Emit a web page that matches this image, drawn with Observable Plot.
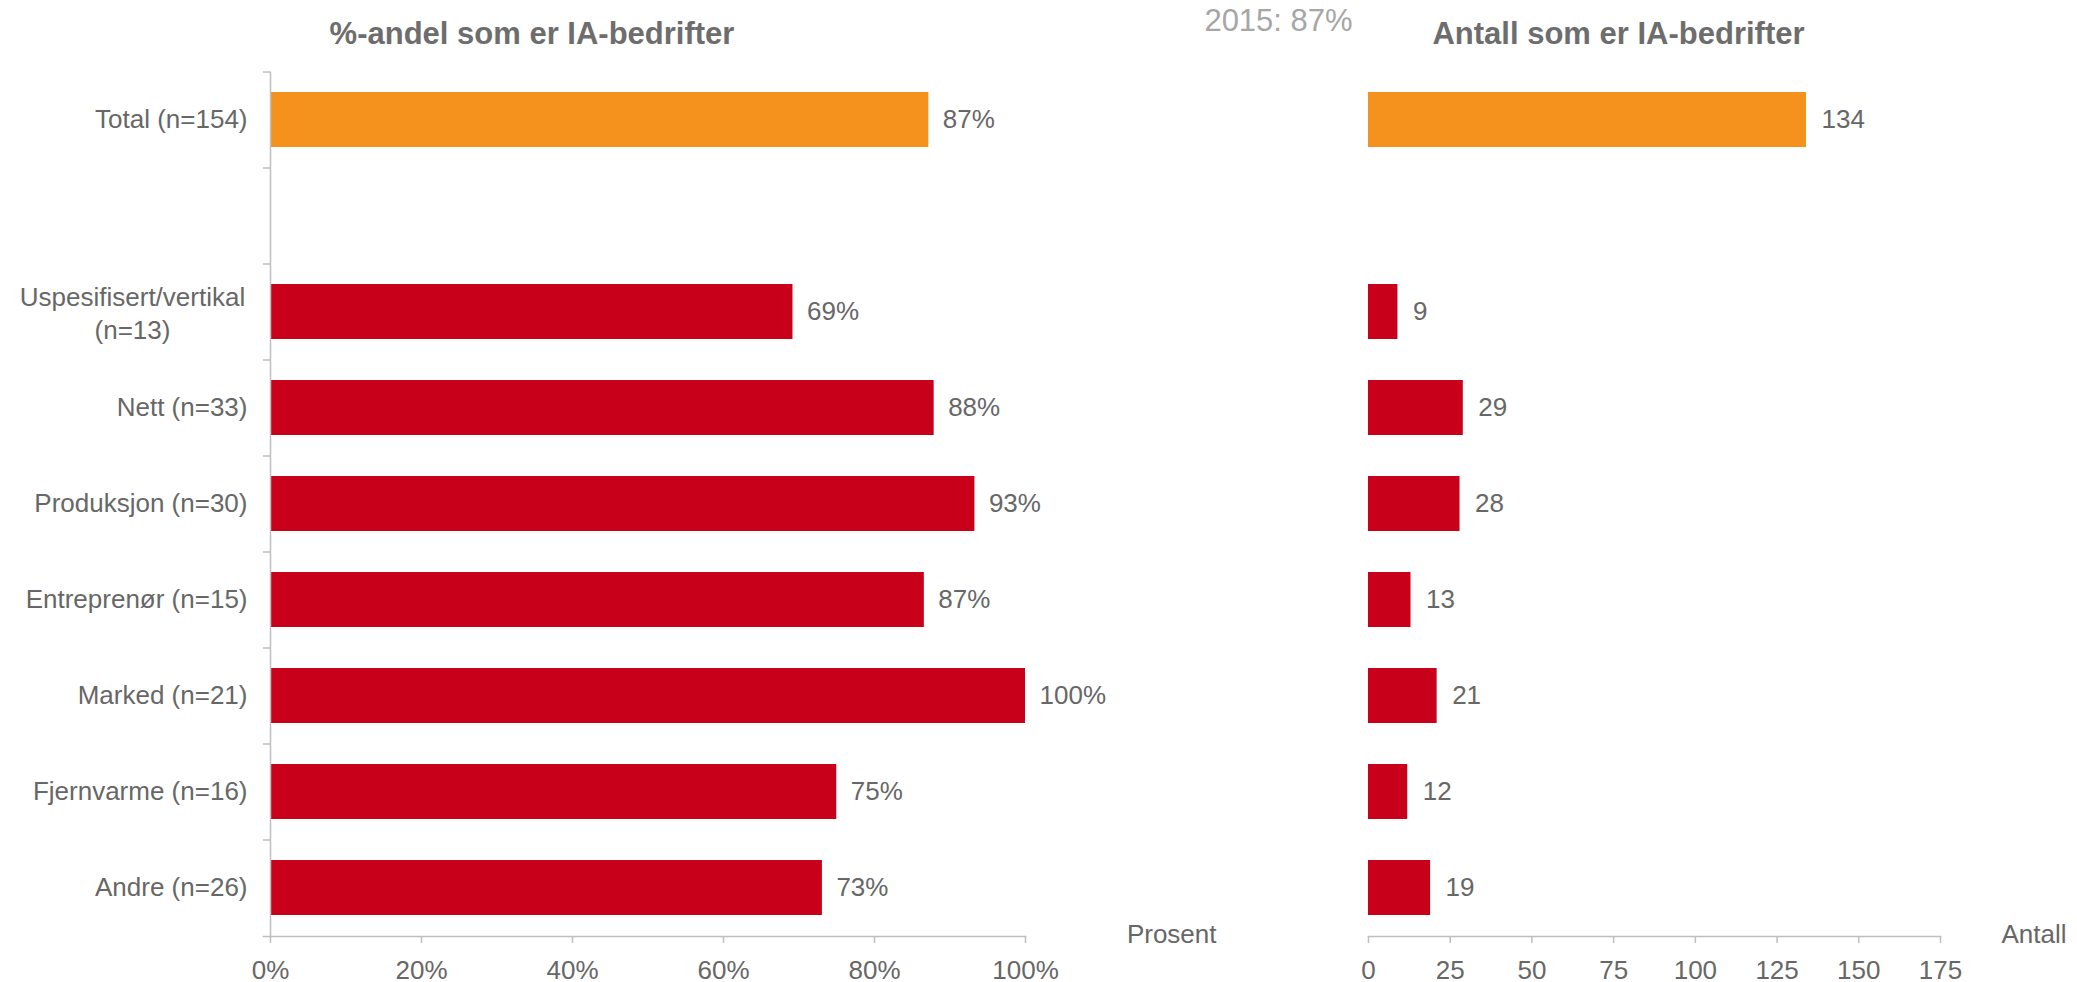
<!DOCTYPE html>
<html><head><meta charset="utf-8">
<script src="https://cdn.jsdelivr.net/npm/d3@7"></script>
<script src="https://cdn.jsdelivr.net/npm/@observablehq/plot@0.6"></script>
<style>
body{margin:0;background:#fff;}
#wrap{position:relative;width:2077px;height:982px;}
#wrap svg{position:absolute;top:0;}
</style></head><body><div id="wrap"></div>
<script>
// ---- data ----
const categories = ["Total (n=154)", " ", "Uspesifisert/vertikal\n(n=13)", "Nett (n=33)", "Produksjon (n=30)", "Entreprenør (n=15)", "Marked (n=21)", "Fjernvarme (n=16)", "Andre (n=26)"];
const shares = [0.872, null, 0.692, 0.879, 0.933, 0.866, 1.0, 0.75, 0.731];
const counts = [134, null, 9, 29, 28, 13, 21, 12, 19];
const groups = ["Total", null, "Bransje", "Bransje", "Bransje", "Bransje", "Bransje", "Bransje", "Bransje"];
const percentTicks = [0, 0.2, 0.4, 0.6, 0.8, 1.0];
const countTicks = [0, 25, 50, 75, 100, 125, 150, 175];
const titleLeft = "%-andel som er IA-bedrifter";
const titleRight = "Antall som er IA-bedrifter";
const note2015 = "2015: 87%";
const unitLeft = "Prosent";
const unitRight = "Antall";

const rows = categories.map((cat, i) => ({cat, share: shares[i], count: counts[i], group: groups[i]}))
  .filter(d => d.share != null);

// ---- style ----
const FONT = '"Liberation Sans", Arial, sans-serif';
const TEXT = "#676767";
const AXIS = "#bfbfbf";
const colorScale = {domain: ["Total", "Bransje"], range: ["#F5921E", "#C8001A"]};
const common = {
  height: 982, marginTop: 71.5, marginBottom: 46,
  style: {fontFamily: FONT, fontSize: "26px", color: TEXT, background: "transparent", overflow: "visible"}
};
const yScale = {domain: categories, paddingInner: 0.43, paddingOuter: 0.215, axis: null, label: null};
const pct = d3.format(".0%");

const p1 = Plot.plot({
  ...common,
  width: 1250, marginLeft: 270, marginRight: 225,
  x: {domain: [0, 1], axis: null},
  y: yScale,
  color: colorScale,
  marks: [
    Plot.barX(rows, {x: "share", y: "cat", fill: "group"}),
    Plot.text(rows, {x: "share", y: "cat", text: d => pct(d.share), textAnchor: "start", dx: 14, fill: TEXT, fontSize: 26}),
    Plot.ruleX([0], {stroke: AXIS, strokeWidth: 1.5}),
    Plot.frame({anchor: "bottom", stroke: AXIS, strokeWidth: 1.5, insetLeft: -7}),
    Plot.axisY({tickSize: 7, tickFormat: () => "", stroke: AXIS, strokeWidth: 1.5, dy: -48, label: null}),
    Plot.axisY({tickSize: 0, tickPadding: 23, fontSize: 26, fill: TEXT, label: null,
      tickFormat: d => d.includes("\n") ? "" : d}),
    Plot.text(categories.filter(d => d.includes("\n")), {y: d => d, text: d => d, frameAnchor: "left", dx: -138,
      textAnchor: "middle", lineHeight: 1.27, fill: TEXT, fontSize: 26}),
    Plot.axisX({ticks: percentTicks, tickFormat: pct, tickSize: 7, tickPadding: 17, stroke: AXIS, strokeWidth: 1.5,
      fontSize: 26, fill: TEXT, label: null}),
    Plot.text([unitLeft], {text: d => d, frameAnchor: "bottom-right", dx: 191, dy: 6, textAnchor: "end", lineAnchor: "bottom", fill: TEXT, fontSize: 26}),
    Plot.text([titleLeft], {text: d => d, frameAnchor: "top", dx: -116, dy: -37.5, lineAnchor: "middle", fill: "#6d6d6d", fontSize: 31, fontWeight: "bold"})
  ]
});

const p2 = Plot.plot({
  ...common,
  width: 827, marginLeft: 118, marginRight: 137,
  x: {domain: [0, 175], axis: null},
  y: yScale,
  color: colorScale,
  marks: [
    Plot.barX(rows, {x: "count", y: "cat", fill: "group"}),
    Plot.text(rows, {x: "count", y: "cat", text: d => d3.format("d")(d.count), textAnchor: "start", dx: 15, fill: TEXT, fontSize: 26}),
    Plot.frame({anchor: "bottom", stroke: AXIS, strokeWidth: 1.5}),
    Plot.axisX({ticks: countTicks, tickFormat: d3.format("d"), tickSize: 7, tickPadding: 17, stroke: AXIS, strokeWidth: 1.5,
      fontSize: 26, fill: TEXT, label: null}),
    Plot.text([unitRight], {text: d => d, frameAnchor: "bottom-right", dx: 126, dy: 6, textAnchor: "end", lineAnchor: "bottom", fill: TEXT, fontSize: 26}),
    Plot.text([titleRight], {text: d => d, frameAnchor: "top", dx: -36, dy: -37.5, lineAnchor: "middle", fill: "#6d6d6d", fontSize: 31, fontWeight: "bold"}),
    Plot.text([note2015], {text: d => d, frameAnchor: "top", dx: -376, dy: -50.5, lineAnchor: "middle", fill: "#a6a6a6", fontSize: 31})
  ]
});

const wrap = document.getElementById("wrap");
p1.style.left = "0px";
p2.style.left = "1250px";
wrap.append(p1, p2);
</script>
</body></html>
